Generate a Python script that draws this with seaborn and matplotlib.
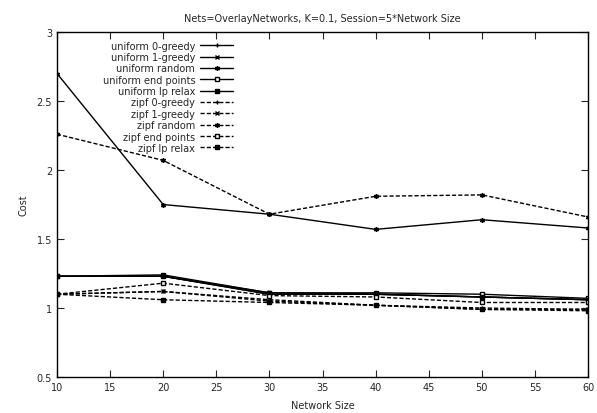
import pandas as pd
import numpy as np
import matplotlib
matplotlib.use("Agg")
import matplotlib.pyplot as plt
from matplotlib.ticker import FuncFormatter
import seaborn as sns

sns.set_style("ticks")
plt.rcParams['font.family'] = ['DejaVu Sans']

# --------------------------------------------------------------
# datos
# --------------------------------------------------------------
network_size = [10, 20, 30, 40, 50, 60]

series_names = [
    'uniform 0-greedy', 'uniform 1-greedy', 'uniform random',
    'uniform end points', 'uniform lp relax',
    'zipf 0-greedy', 'zipf 1-greedy', 'zipf random',
    'zipf end points', 'zipf lp relax',
]

uniform_0_greedy = [1.23, 1.23, 1.10, 1.10, 1.08, 1.06]
uniform_1_greedy = [1.23, 1.23, 1.10, 1.10, 1.08, 1.06]
uniform_random = [2.70, 1.75, 1.68, 1.57, 1.64, 1.58]
uniform_end_points = [1.23, 1.23, 1.11, 1.11, 1.10, 1.07]
uniform_lp_relax = [1.23, 1.24, 1.11, 1.10, 1.08, 1.06]
zipf_0_greedy = [1.10, 1.12, 1.06, 1.02, 1.00, 0.99]
zipf_1_greedy = [1.10, 1.12, 1.05, 1.02, 0.99, 0.99]
zipf_random = [2.26, 2.07, 1.68, 1.81, 1.82, 1.66]
zipf_end_points = [1.10, 1.18, 1.09, 1.08, 1.04, 1.04]
zipf_lp_relax = [1.10, 1.06, 1.04, 1.02, 0.99, 0.98]

valores = [uniform_0_greedy, uniform_1_greedy, uniform_random,
           uniform_end_points, uniform_lp_relax,
           zipf_0_greedy, zipf_1_greedy, zipf_random,
           zipf_end_points, zipf_lp_relax]

df = pd.DataFrame([
    {'size': s, 'cost': c, 'serie': name}
    for name, vals in zip(series_names, valores)
    for s, c in zip(network_size, vals)
])

# estilo tipo gnuplot: + , x, *, cuadro abierto, cuadro lleno
simbolos = ['+', 'x', (6, 2, 0), 's', 's']
relleno = ['none', 'none', 'none', 'white', 'black']

# --------------------------------------------------------------
# grafica
# --------------------------------------------------------------
fig = plt.figure(figsize=(5.97, 4.14), dpi=100)
ax = fig.add_axes([0.0955, 0.087, 0.8895, 0.833])

for i, name in enumerate(series_names):
    sub = df[df['serie'] == name]
    ls = '-' if name.startswith('uniform') else (0, (3, 1.5))
    sns.lineplot(data=sub, x='size', y='cost', ax=ax, color='black',
                 linewidth=1.0, linestyle=ls, marker=simbolos[i % 5],
                 markersize=3.5, markerfacecolor=relleno[i % 5],
                 markeredgecolor='black', markeredgewidth=1.0, label=name)

ax.set_xlim(10, 60)
ax.set_ylim(0.5, 3)
ax.set_xticks(np.arange(10, 61, 5))
ax.set_yticks(np.arange(0.5, 3.01, 0.5))
ax.yaxis.set_major_formatter(FuncFormatter(lambda v, p: f"{v:g}"))
ax.tick_params(direction='in', top=True, right=True, labelsize=7, length=5)
for sp in ax.spines.values():
    sp.set_linewidth(1.0)
    sp.set_color('black')

ax.set_title('Nets=OverlayNetworks, K=0.1, Session=5*Network Size', fontsize=7, pad=8)
ax.set_xlabel('Network Size', fontsize=7, labelpad=6)
ax.set_ylabel('Cost', fontsize=7, labelpad=6)

ax.legend(loc='upper left', bbox_to_anchor=(0.073, 0.995),
          frameon=False, markerfirst=False, fontsize=7, handlelength=3.4,
          labelspacing=0.14, handletextpad=0.5, borderpad=0.2)

plt.savefig('out.png', dpi=100)
